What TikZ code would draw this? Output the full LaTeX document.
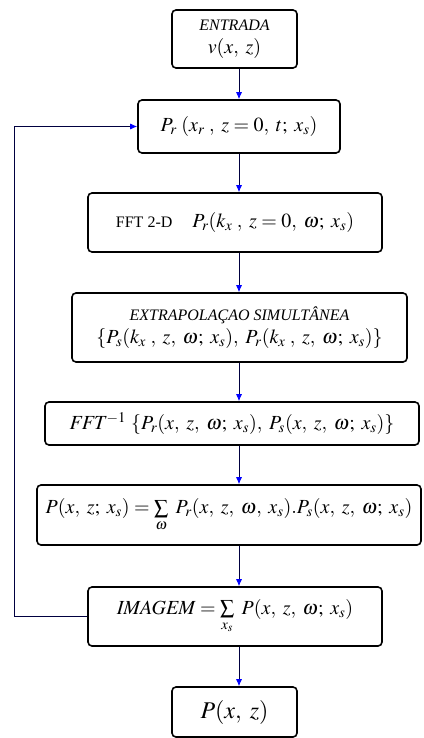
\documentclass[tikz,border=0pt]{standalone}
\usepackage{mathptmx}
\usepackage{fontspec}
\setmainfont{Liberation Serif}
\usetikzlibrary{arrows.meta}

\begin{document}
\begin{tikzpicture}[x=1pt, y=-1pt,
  caixa/.style={draw, line width=1.6pt, rounded corners=4pt, inner sep=2pt, align=center, font=\fontsize{20}{23}\selectfont},
  seta/.style={draw=black!75!blue, line width=0.8pt, -{Latex[length=7pt,width=6pt,blue]}}]
\useasboundingbox (0,0) rectangle (423,738);
\coordinate (eixo) at (239,0);
\coordinate (volta) at (14,620);

\node[caixa, minimum width=125pt, minimum height=58pt] (entrada) at (234.5,39) {{\fontsize{16}{19}\selectfont\itshape ENTRADA}\\ $v(x,\;z)$};
\node[caixa, minimum width=202pt, minimum height=53pt] (pr) at (239,126.5) {$P_r\;(x_r\;,\; z = 0,\; t;\; x_s)$};
\node[caixa, minimum width=294pt, minimum height=59pt] (fft) at (235,222.5) {{\fontsize{16}{18}\selectfont FFT 2-D}\quad $P_r(k_x\;,\; z = 0,\; \omega;\; x_s)$};
\node[caixa, minimum width=335pt, minimum height=69pt] (extrap) at (239.5,327.5) {{\fontsize{16}{18}\selectfont\itshape EXTRAPOLAÇAO SIMULTÂNEA}\\ $\{P_s(k_x\;,\; z,\; \omega;\; x_s),\; P_r(k_x\;,\; z,\; \omega;\; x_s)\}$};
\node[caixa, minimum width=374pt, minimum height=43pt] (fftinv) at (232,423.5) {$\mathit{FFT}^{-1}\ \{P_r(x,\; z,\; \omega;\; x_s),\; P_s(x,\; z,\; \omega;\; x_s)\}$};
\node[caixa, minimum width=384pt, minimum height=60pt, inner sep=1pt] (soma) at (229,515) {$P(x,\;z;\;x_s) = \sum\limits_{\omega}\ P_r(x,\; z,\; \omega,\; x_s).P_s(x,\; z,\; \omega;\; x_s)$};
\node[caixa, minimum width=294pt, minimum height=59pt] (imagem) at (235,616.5) {$\mathit{IMAGEM} = \sum\limits_{x_s}\ P(x,\; z,\; \omega;\; x_s)$};
\node[caixa, minimum width=125pt, minimum height=50pt, font=\fontsize{24}{27}\selectfont] (saida) at (234.5,712) {$P(x,\;z)$};

\draw[seta] (entrada.south -| eixo) -- (pr.north -| eixo);
\draw[seta] (pr.south -| eixo) -- (fft.north -| eixo);
\draw[seta] (fft.south -| eixo) -- (extrap.north -| eixo);
\draw[seta] (extrap.south -| eixo) -- (fftinv.north -| eixo);
\draw[seta] (fftinv.south -| eixo) -- (soma.north -| eixo);
\draw[seta] (soma.south -| eixo) -- (imagem.north -| eixo);
\draw[seta] (imagem.south -| eixo) -- (saida.north -| eixo);
% laco de volta
\draw[seta] (imagem.west) -- (imagem.west -| volta) |- (pr.west);
\end{tikzpicture}
\end{document}
